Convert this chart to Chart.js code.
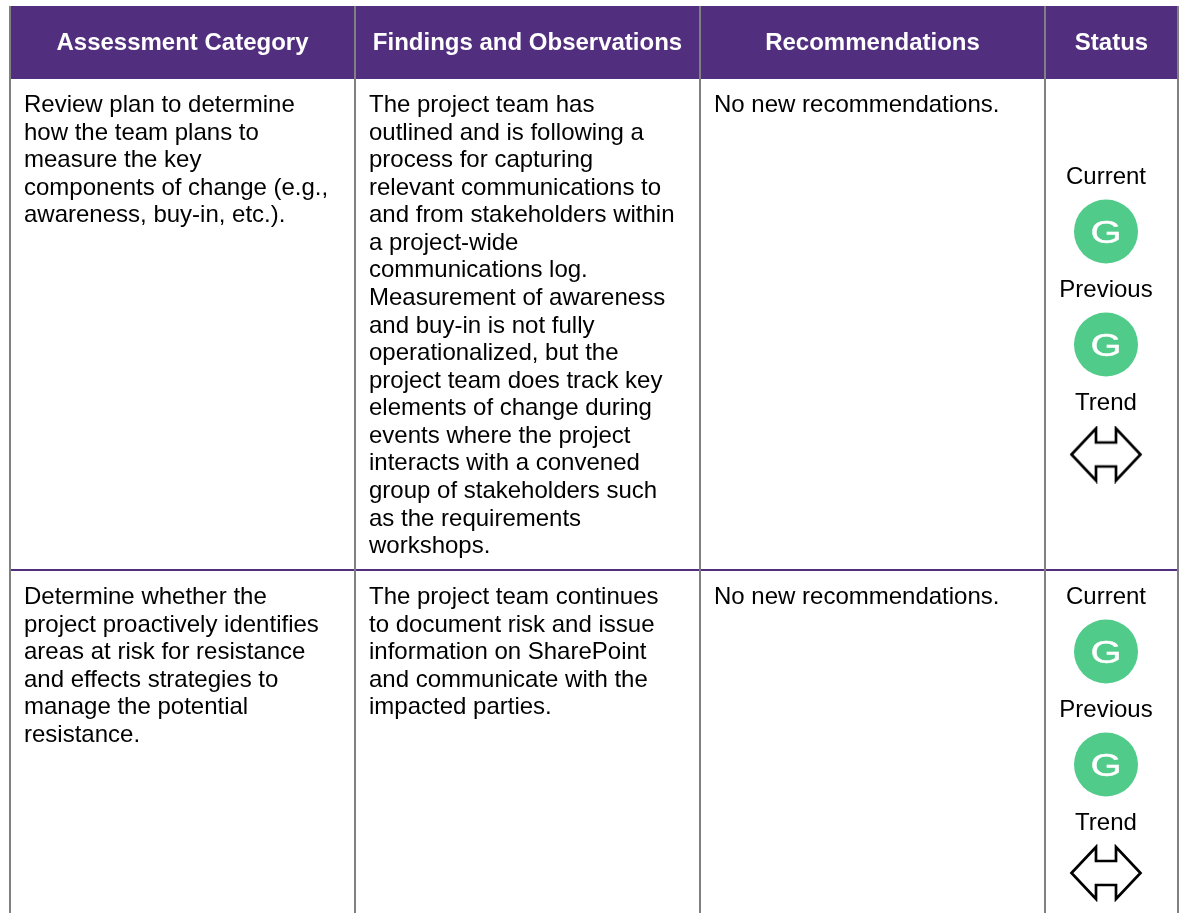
<!DOCTYPE html>
<html>
<head>
<meta charset="utf-8">
<title>Assessment table</title>
<style>
  html, body { margin: 0; padding: 0; background: #fff; }
  canvas { display: block; }
</style>
<script src="https://cdn.jsdelivr.net/npm/chart.js@4/dist/chart.umd.min.js"></script>
</head>
<body>
<canvas id="myChart" width="1182" height="913"></canvas>
<script>
const headers = ["Assessment Category", "Findings and Observations", "Recommendations", "Status"];

const row1_category = [
  "Review plan to determine",
  "how the team plans to",
  "measure the key",
  "components of change (e.g.,",
  "awareness, buy-in, etc.).",
];
const row1_findings = [
  "The project team has",
  "outlined and is following a",
  "process for capturing",
  "relevant communications to",
  "and from stakeholders within",
  "a project-wide",
  "communications log.",
  "Measurement of awareness",
  "and buy-in is not fully",
  "operationalized, but the",
  "project team does track key",
  "elements of change during",
  "events where the project",
  "interacts with a convened",
  "group of stakeholders such",
  "as the requirements",
  "workshops.",
];
const row1_recs = ["No new recommendations."];

const row2_category = [
  "Determine whether the",
  "project proactively identifies",
  "areas at risk for resistance",
  "and effects strategies to",
  "manage the potential",
  "resistance.",
];
const row2_findings = [
  "The project team continues",
  "to document risk and issue",
  "information on SharePoint",
  "and communicate with the",
  "impacted parties.",
];
const row2_recs = ["No new recommendations."];

const status_labels = ["Current", "Previous", "Trend"];
const status_rating = "G";

// layout, in the pixel units of the two axes
const col_edges = [10, 355, 700, 1045, 1178];
const text_left = [24, 369, 714];
const status_x = 1106;
const header_top = 6;
const header_bottom = 79;
const header_text_y = 43.5;
const row_line = 570;
const first_line = [105.5, 597.5];
const line_h = 27.56;
const label_y = [[177, 290, 403], [597, 710, 823]];
const circle_y = [231.5, 344.5, 651.5, 764.5];
const arrow_y = [454.5, 873];

const purple = "#512e7e";
const grey = "#808080";
const green = "#50cb89";
const body_font = '24px "Liberation Sans", Arial, sans-serif';
const head_font = 'bold 24px "Liberation Sans", Arial, sans-serif';

function make_arrow() {
  const c = document.createElement("canvas");
  c.width = 74;
  c.height = 58;
  const g = c.getContext("2d");
  const pts = [[-34.5, 0], [-10, -26], [-10, -12], [10, -12], [10, -26], [34.5, 0], [10, 26], [10, 12], [-10, 12], [-10, 26]];
  g.translate(37, 29);
  g.beginPath();
  pts.forEach((p, i) => (i ? g.lineTo(p[0], p[1]) : g.moveTo(p[0], p[1])));
  g.closePath();
  g.fillStyle = "#fff";
  g.fill();
  g.lineWidth = 2.7;
  g.strokeStyle = "#000";
  g.stroke();
  return c;
}

function rule(x1, y1, x2, y2, color, order) {
  return {
    data: [{ x: x1, y: y1 }, { x: x2, y: y2 }],
    showLine: true,
    borderColor: color,
    borderWidth: 2,
    pointRadius: 0,
    order: order,
  };
}

let datasets = [];
// header band
datasets.push({
  data: [{ x: col_edges[0], y: header_top }, { x: col_edges[4], y: header_top }],
  showLine: true,
  borderWidth: 0,
  pointRadius: 0,
  backgroundColor: purple,
  fill: { target: { value: header_bottom } },
  order: 5,
});
datasets.push(rule(col_edges[0], row_line, col_edges[4], row_line, purple, 4));
for (let i = 0; i < col_edges.length; i++) {
  datasets.push(rule(col_edges[i], header_top, col_edges[i], 913, grey, 3));
}
datasets.push({
  data: circle_y.map((y) => ({ x: status_x, y: y })),
  pointRadius: 32,
  pointHoverRadius: 32,
  pointBackgroundColor: green,
  pointBorderWidth: 0,
  order: 2,
});
datasets.push({
  data: arrow_y.map((y) => ({ x: status_x, y: y })),
  pointStyle: make_arrow(),
  order: 1,
});

const table_text = {
  id: "table_text",
  afterDatasetsDraw(chart) {
    const ctx = chart.ctx;
    const xs = chart.scales.x;
    const ys = chart.scales.y;
    ctx.save();
    ctx.textBaseline = "middle";

    ctx.font = head_font;
    ctx.fillStyle = "#fff";
    ctx.textAlign = "center";
    headers.forEach((h, i) => {
      const mid = (col_edges[i] + col_edges[i + 1]) / 2;
      ctx.fillText(h, xs.getPixelForValue(mid), ys.getPixelForValue(header_text_y));
    });

    ctx.font = body_font;
    ctx.fillStyle = "#000";
    ctx.textAlign = "left";
    const cols = [
      [row1_category, row1_findings, row1_recs],
      [row2_category, row2_findings, row2_recs],
    ];
    cols.forEach((row, r) => {
      row.forEach((lines, c) => {
        lines.forEach((line, n) => {
          ctx.fillText(line, xs.getPixelForValue(text_left[c]), ys.getPixelForValue(first_line[r] + n * line_h));
        });
      });
    });

    ctx.textAlign = "center";
    label_y.forEach((row) => {
      row.forEach((y, i) => {
        ctx.fillText(status_labels[i], xs.getPixelForValue(status_x), ys.getPixelForValue(y));
      });
    });

    // the G in the source is stretched sideways and a bit heavy
    ctx.fillStyle = "#fff";
    ctx.strokeStyle = "#fff";
    ctx.lineWidth = 0.4;
    ctx.font = '32px "Liberation Sans", Arial, sans-serif';
    circle_y.forEach((y) => {
      ctx.save();
      ctx.translate(xs.getPixelForValue(status_x), ys.getPixelForValue(y + 3));
      ctx.scale(1.25, 1);
      ctx.fillText(status_rating, 0, 0);
      ctx.strokeText(status_rating, 0, 0);
      ctx.restore();
    });
    ctx.restore();
  },
};

new Chart(document.getElementById("myChart"), {
  type: "scatter",
  data: { datasets: datasets },
  plugins: [table_text],
  options: {
    responsive: false,
    animation: false,
    layout: { padding: 0, autoPadding: false },
    plugins: { legend: { display: false }, tooltip: { enabled: false } },
    scales: {
      x: { type: "linear", min: 0, max: 1182, display: false },
      y: { type: "linear", min: 0, max: 913, reverse: true, display: false },
    },
  },
});
</script>
</body>
</html>
